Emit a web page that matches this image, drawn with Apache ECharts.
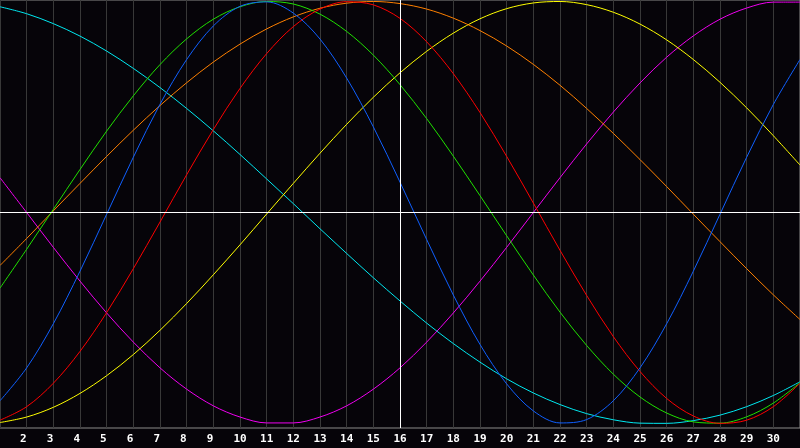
<!DOCTYPE html>
<html>
<head>
<meta charset="utf-8">
<script src="https://cdn.jsdelivr.net/npm/echarts@6/dist/echarts.min.js"></script>
<style>
  html, body { margin: 0; padding: 0; background: #060409; }
  #chart { width: 800px; height: 448px; }
</style>
</head>
<body>
<div id="chart"></div>
<script>
// day of month on the x axis
const days = [1, 2, 3, 4, 5, 6, 7, 8, 9, 10, 11, 12, 13, 14, 15, 16, 17, 18, 19, 20, 21, 22, 23, 24, 25, 26, 27, 28, 29, 30, 31]
const today = 16

// biorhythm cycles (-1 .. 1)
const physical = [-0.892, -0.736, -0.527, -0.278, -0.008, 0.262, 0.513, 0.725, 0.884, 0.977, 0.998, 0.945, 0.822, 0.637, 0.406, 0.144, -0.128, -0.391, -0.625, -0.812, -0.940, -0.997, -0.981, -0.892, -0.736, -0.527, -0.278, -0.008, 0.262, 0.512, 0.725]
const emotional = [-0.984, -0.920, -0.809, -0.658, -0.474, -0.266, -0.045, 0.179, 0.393, 0.588, 0.753, 0.881, 0.964, 0.999, 0.984, 0.920, 0.809, 0.658, 0.474, 0.266, 0.045, -0.179, -0.393, -0.588, -0.753, -0.881, -0.964, -0.999, -0.984, -0.920, -0.809]
const intellectual = [-0.358, -0.174, 0.015, 0.204, 0.386, 0.553, 0.701, 0.823, 0.916, 0.975, 1.000, 0.988, 0.940, 0.858, 0.746, 0.606, 0.445, 0.267, 0.080, -0.110, -0.296, -0.472, -0.630, -0.766, -0.874, -0.950, -0.992, -0.998, -0.968, -0.903, -0.806]
const intuitive = [0.165, 0.000, -0.165, -0.325, -0.476, -0.614, -0.736, -0.837, -0.916, -0.969, -0.997, -0.997, -0.969, -0.916, -0.837, -0.736, -0.614, -0.476, -0.325, -0.165, 0.000, 0.165, 0.325, 0.476, 0.614, 0.736, 0.837, 0.916, 0.969, 0.997, 0.997]
const aesthetic = [-0.995, -0.969, -0.923, -0.857, -0.773, -0.673, -0.558, -0.431, -0.295, -0.153, -0.007, 0.138, 0.281, 0.418, 0.546, 0.662, 0.764, 0.850, 0.918, 0.966, 0.993, 1.000, 0.985, 0.949, 0.893, 0.818, 0.725, 0.617, 0.496, 0.364, 0.225]
const awareness = [-0.251, -0.123, 0.008, 0.138, 0.266, 0.390, 0.507, 0.615, 0.713, 0.798, 0.870, 0.927, 0.968, 0.992, 1.000, 0.990, 0.964, 0.921, 0.862, 0.789, 0.702, 0.603, 0.493, 0.375, 0.251, 0.123, -0.008, -0.138, -0.266, -0.390, -0.507]
const spiritual = [0.975, 0.942, 0.895, 0.836, 0.765, 0.683, 0.592, 0.493, 0.387, 0.275, 0.159, 0.042, -0.077, -0.194, -0.309, -0.419, -0.524, -0.621, -0.709, -0.788, -0.855, -0.910, -0.953, -0.982, -0.998, -0.999, -0.986, -0.960, -0.920, -0.867, -0.802]

const cycles = [
  { name: 'Spiritual', data: spiritual, color: '#00e8f0' },
  { name: 'Intuitive', data: intuitive, color: '#f000f0' },
  { name: 'Aesthetic', data: aesthetic, color: '#ffff00' },
  { name: 'Awareness', data: awareness, color: '#ff8000' },
  { name: 'Intellectual', data: intellectual, color: '#20e000' },
  { name: 'Emotional', data: emotional, color: '#ff0000' },
  { name: 'Physical', data: physical, color: '#1060ff' }
]

const chart = echarts.init(document.getElementById('chart'))

const series = cycles.map(c => ({
  name: c.name,
  type: 'line',
  smooth: 0.33,
  showSymbol: false,
  lineStyle: { width: 1, color: c.color },
  itemStyle: { color: c.color },
  data: days.map((d, i) => [d, c.data[i]])
}))

// today marker and the zero line
series[0].markLine = {
  silent: true,
  symbol: 'none',
  label: { show: false },
  lineStyle: { color: '#ffffff', width: 1, type: 'solid' },
  data: [{ xAxis: today }, { yAxis: 0 }]
}

chart.setOption({
  animation: false,
  backgroundColor: '#060409',
  grid: {
    show: true,
    left: 0,
    right: 0,
    top: 0,
    bottom: 20,
    borderColor: '#8a8a8a',
    borderWidth: 1,
    backgroundColor: '#060409'
  },
  xAxis: {
    type: 'value',
    min: 1,
    max: 31,
    interval: 1,
    axisLine: { show: true, lineStyle: { color: '#8a8a8a', width: 1 } },
    axisTick: { show: false },
    splitLine: { show: true, lineStyle: { color: '#383838', width: 1 } },
    axisLabel: {
      showMinLabel: false,
      showMaxLabel: false,
      margin: 6,
      color: '#ffffff',
      fontFamily: 'DejaVu Sans Mono',
      fontWeight: 'bold',
      fontSize: 11,
      formatter: v => (v < 10 ? v + ' ' : '' + v)
    }
  },
  yAxis: {
    type: 'value',
    min: -1.021,
    max: 1.007,
    show: false,
    splitLine: { show: false }
  },
  series: series
})
</script>
</body>
</html>
